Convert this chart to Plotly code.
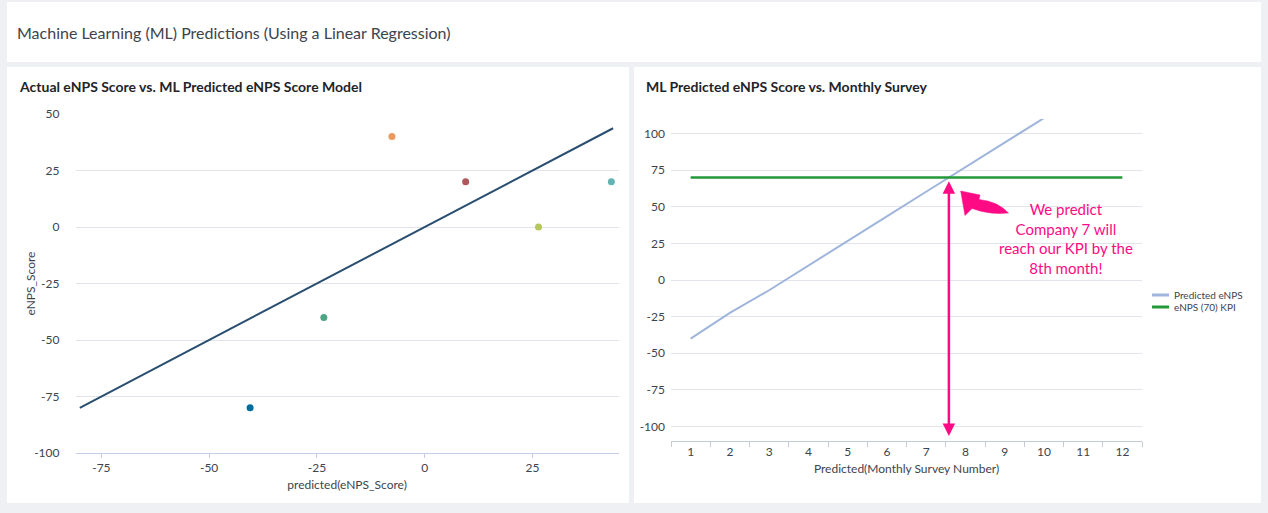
import plotly.graph_objects as go

W, H = 1268, 513

# ---------------- data ----------------
company_predicted = [-40.5, -23.4, -7.6, 9.5, 26.4, 43.3]
company_actual = [-80, -40, 40, 20, 0, 20]
company_colors = ["#006D9C", "#4FA484", "#EC9960", "#AF575A", "#B6C75A", "#62B3B2"]

model_x = [-80, 43.7]
model_y = [-80, 43.7]

left_xticks = [-75, -50, -25, 0, 25]
left_yticks = [-100, -75, -50, -25, 0, 25, 50]

months = [1, 2, 3, 4, 5, 6, 7, 8, 9, 10, 11, 12]
predicted_enps = [-40, -22.5, -7, 10, 26.8, 43.5, 60.3, 77, 93.8, 110.6]
kpi_enps = [70, 70, 70, 70, 70, 70, 70, 70, 70, 70, 70, 70]
series_names = ["Predicted eNPS", "eNPS (70) KPI"]
right_yticks = [-100, -75, -50, -25, 0, 25, 50, 75, 100]

kpi_month = 7.58
kpi_value = 70

# ---------------- style ----------------
FONT = "Lato"
TXT = "#3c444d"
GRID = "#e1e4ea"
PINK = "#ff0a85"
PRED_COLOR = "#a0b5dc"
KPI_COLOR = "#25983a"


def px(x):
    return x / W


def py(y):
    return 1 - y / H


def labels(vals):
    return [str(v) for v in vals]


fig = go.Figure()

# left chart
fig.add_trace(go.Scatter(x=model_x, y=model_y, mode="lines",
                         line=dict(color="#294E70", width=2),
                         xaxis="x", yaxis="y", showlegend=False))
fig.add_trace(go.Scatter(x=company_predicted, y=company_actual, mode="markers",
                         marker=dict(color=company_colors, size=7),
                         xaxis="x", yaxis="y", showlegend=False))

# right chart
fig.add_trace(go.Scatter(x=months[:len(predicted_enps)], y=predicted_enps, mode="lines",
                         line=dict(color=PRED_COLOR, width=2), name=series_names[0],
                         xaxis="x2", yaxis="y2", showlegend=False))
fig.add_trace(go.Scatter(x=months, y=kpi_enps, mode="lines",
                         line=dict(color=KPI_COLOR, width=2.5), name=series_names[1],
                         xaxis="x2", yaxis="y2", showlegend=False))

shapes = []
# panels
for (x0, y0, x1, y1) in [(7, 2, 1261, 62), (7, 67, 629, 503), (634, 67, 1261, 503)]:
    shapes.append(dict(type="rect", xref="paper", yref="paper", layer="below",
                       x0=px(x0), x1=px(x1), y0=py(y1), y1=py(y0),
                       fillcolor="white", line=dict(width=0)))

# curved fat arrow
path = "M{},{} L{},{} L{},{} ".format(px(960.7), py(191), px(980), py(195), px(979), py(199.5))
path += "Q{},{} {},{} ".format(px(997), py(201), px(1008.5), py(213))
path += "Q{},{} {},{} ".format(px(990), py(215), px(972), py(208.5))
path += "L{},{} Z".format(px(965), py(215.5))
shapes.append(dict(type="path", xref="paper", yref="paper", path=path,
                   fillcolor=PINK, line=dict(color=PINK, width=0.5)))

# manual legend swatches
for i, (name, col) in enumerate(zip(series_names, [PRED_COLOR, KPI_COLOR])):
    yy = 295 + 12 * i
    shapes.append(dict(type="line", xref="paper", yref="paper",
                       x0=px(1152), x1=px(1169), y0=py(yy), y1=py(yy),
                       line=dict(color=col, width=3)))

annotations = [
    dict(text="Machine Learning (ML) Predictions (Using a Linear Regression)",
         xref="paper", yref="paper", x=px(15), y=py(32), xanchor="left", yanchor="middle",
         showarrow=False, font=dict(family=FONT, size=16, color=TXT)),
    dict(text="<b>Actual eNPS Score vs. ML Predicted eNPS Score Model</b>",
         xref="paper", yref="paper", x=px(17), y=py(86), xanchor="left", yanchor="middle",
         showarrow=False, font=dict(family=FONT, size=14, color="#1f2429")),
    dict(text="<b>ML Predicted eNPS Score vs. Monthly Survey</b>",
         xref="paper", yref="paper", x=px(644), y=py(86), xanchor="left", yanchor="middle",
         showarrow=False, font=dict(family=FONT, size=14, color="#1f2429")),
    dict(text="eNPS_Score", xref="paper", yref="paper", x=px(30), y=py(283.5),
         xanchor="center", yanchor="middle", textangle=-90,
         showarrow=False, font=dict(family=FONT, size=12, color=TXT)),
    dict(text="We predict<br>Company 7 will<br>reach our KPI by the<br>8th month!",
         xref="paper", yref="paper", x=px(1066), y=py(238.5), xanchor="center", yanchor="middle",
         align="center", showarrow=False, font=dict(family=FONT, size=15, color=PINK)),
    # vertical double-headed arrow
    dict(text="", xref="x2", yref="y2", axref="x2", ayref="y2",
         x=kpi_month, y=-106.5, ax=kpi_month, ay=kpi_value - 1.5,
         showarrow=True, arrowhead=2, startarrowhead=2, arrowside="end+start",
         arrowwidth=2.5, arrowsize=1, startarrowsize=1, arrowcolor=PINK,
         standoff=0, startstandoff=0),
]
for i, name in enumerate(series_names):
    annotations.append(dict(text=name, xref="paper", yref="paper",
                            x=px(1172), y=py(295 + 12 * i), xanchor="left", yanchor="middle",
                            showarrow=False, font=dict(family=FONT, size=10, color=TXT)))

fig.update_layout(
    width=W, height=H,
    margin=dict(l=0, r=0, t=0, b=0),
    paper_bgcolor="#eef0f3",
    plot_bgcolor="white",
    font=dict(family=FONT, size=12, color=TXT),
    showlegend=False,
    shapes=shapes,
    annotations=annotations,
    xaxis=dict(domain=[px(75.5), px(618.7)], range=[-81, 45], anchor="y",
               tickvals=left_xticks, ticktext=labels(left_xticks),
               showgrid=False, zeroline=False,
               showline=True, linecolor="#c3cde8", linewidth=1,
               ticks="outside", ticklen=4, tickcolor="#c3cde8",
               tickfont=dict(size=12, color=TXT), automargin=False,
               title=dict(text="predicted(eNPS_Score)", standoff=6,
                          font=dict(size=12, color=TXT))),
    yaxis=dict(domain=[py(453), py(114)], range=[-100, 50], anchor="x",
               tickvals=left_yticks, ticktext=labels(left_yticks),
               showgrid=True, gridcolor=GRID,
               zeroline=False, showline=False, ticks="", ticklabelstandoff=15,
               tickfont=dict(size=12, color=TXT), automargin=False),
    xaxis2=dict(domain=[px(671), px(1142)], range=[0.5, 12.5], anchor="y2",
                tickvals=months, ticktext=labels(months),
                showgrid=False, zeroline=False, showline=True,
                linecolor="#c5cad4", linewidth=1, ticks="",
                minor=dict(tickmode="array", tickvals=[m - 0.5 for m in months] + [12.5],
                           ticks="outside", ticklen=5, tickcolor="#c5cad4", showgrid=False),
                tickfont=dict(size=12, color=TXT), automargin=False,
                title=dict(text="Predicted(Monthly Survey Number)", standoff=6,
                           font=dict(size=12, color=TXT))),
    yaxis2=dict(domain=[py(441), py(119)], range=[-110, 110], anchor="x2",
                tickvals=right_yticks, ticktext=labels(right_yticks),
                showgrid=True, gridcolor=GRID, zeroline=False, showline=False, ticks="",
                ticklabelstandoff=5, tickfont=dict(size=12, color=TXT), automargin=False),
)

fig.write_html("out.html", config={"displayModeBar": False},
               post_script="document.body.style.margin='0';document.body.style.overflow='hidden';")
